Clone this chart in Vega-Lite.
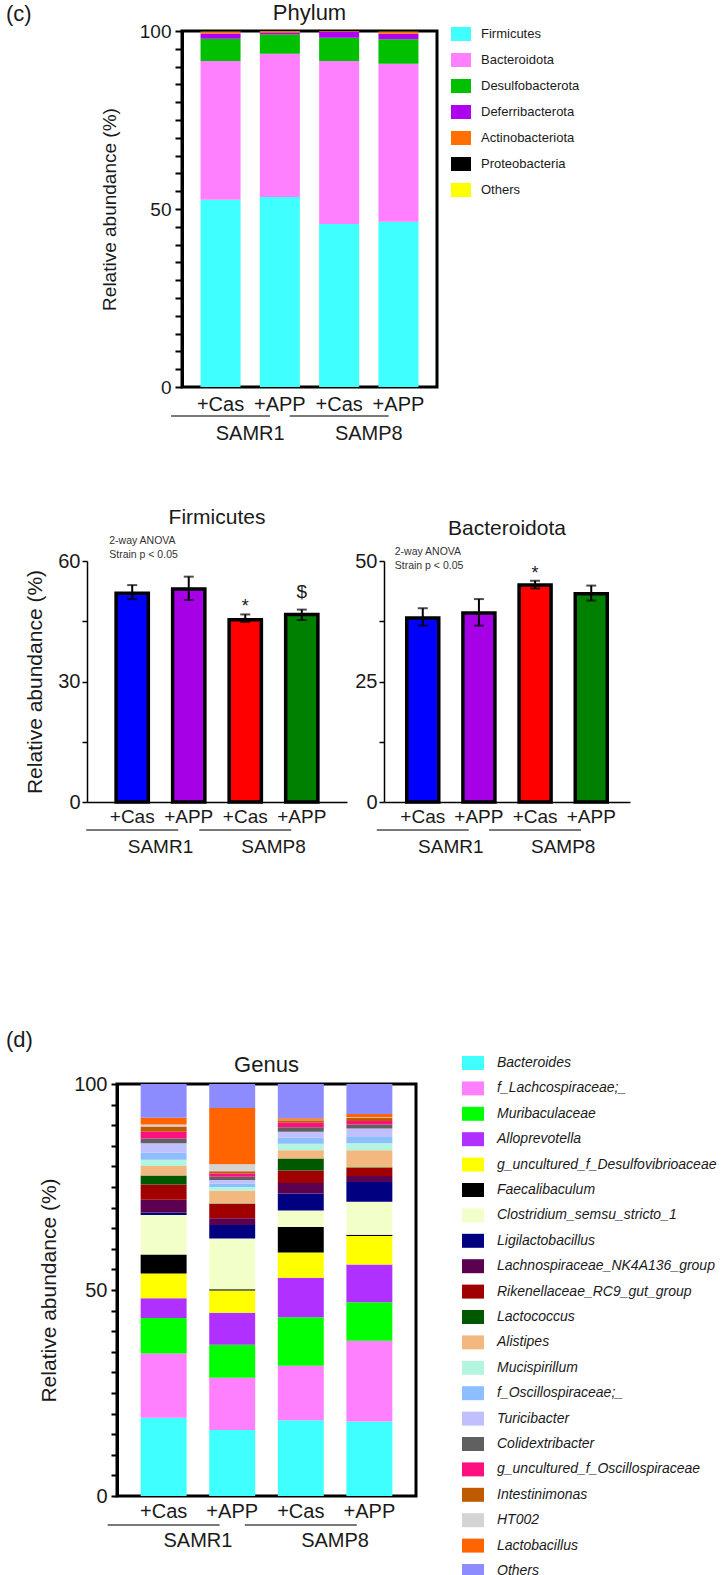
{
  "$schema": "https://vega.github.io/schema/vega-lite/v6.json",
  "background": "white",
  "padding": {"left": 0, "top": 0, "right": 0, "bottom": 0},
  "datasets": {
    "phylum": [
      {"t": "Firmicutes", "k": 1, "SAMR1 +Cas": 52.6, "SAMR1 +APP": 53.4, "SAMP8 +Cas": 45.8, "SAMP8 +APP": 46.4},
      {"t": "Bacteroidota", "k": 2, "SAMR1 +Cas": 39.0, "SAMR1 +APP": 40.2, "SAMP8 +Cas": 45.8, "SAMP8 +APP": 44.4},
      {"t": "Desulfobacterota", "k": 3, "SAMR1 +Cas": 6.2, "SAMR1 +APP": 5.4, "SAMP8 +Cas": 6.5, "SAMP8 +APP": 6.9},
      {"t": "Deferribacterota", "k": 4, "SAMR1 +Cas": 1.5, "SAMR1 +APP": 0.5, "SAMP8 +Cas": 1.7, "SAMP8 +APP": 1.5},
      {"t": "Actinobacteriota", "k": 5, "SAMR1 +Cas": 0.5, "SAMR1 +APP": 0.4, "SAMP8 +Cas": 0.1, "SAMP8 +APP": 0.6},
      {"t": "Proteobacteria", "k": 6, "SAMR1 +Cas": 0.1, "SAMR1 +APP": 0.05, "SAMP8 +Cas": 0.05, "SAMP8 +APP": 0.1},
      {"t": "Others", "k": 7, "SAMR1 +Cas": 0.1, "SAMR1 +APP": 0.05, "SAMP8 +Cas": 0.05, "SAMP8 +APP": 0.1}
    ],
    "genus": [
      {"t": "Bacteroides", "k": 1, "SAMR1 +Cas": 19.0, "SAMR1 +APP": 16.0, "SAMP8 +Cas": 18.4, "SAMP8 +APP": 18.1},
      {"t": "f_Lachcospiraceae;_", "k": 2, "SAMR1 +Cas": 15.6, "SAMR1 +APP": 12.7, "SAMP8 +Cas": 13.2, "SAMP8 +APP": 19.6},
      {"t": "Muribaculaceae", "k": 3, "SAMR1 +Cas": 8.6, "SAMR1 +APP": 8.0, "SAMP8 +Cas": 11.8, "SAMP8 +APP": 9.3},
      {"t": "Alloprevotella", "k": 4, "SAMR1 +Cas": 4.8, "SAMR1 +APP": 7.8, "SAMP8 +Cas": 9.6, "SAMP8 +APP": 9.2},
      {"t": "g_uncultured_f_Desulfovibrioaceae", "k": 5, "SAMR1 +Cas": 6.0, "SAMR1 +APP": 5.4, "SAMP8 +Cas": 6.1, "SAMP8 +APP": 6.9},
      {"t": "Faecalibaculum", "k": 6, "SAMR1 +Cas": 4.6, "SAMR1 +APP": 0.3, "SAMP8 +Cas": 6.2, "SAMP8 +APP": 0.3},
      {"t": "Clostridium_semsu_stricto_1", "k": 7, "SAMR1 +Cas": 9.6, "SAMR1 +APP": 12.3, "SAMP8 +Cas": 4.0, "SAMP8 +APP": 8.0},
      {"t": "Ligilactobacillus", "k": 8, "SAMR1 +Cas": 0.6, "SAMR1 +APP": 3.3, "SAMP8 +Cas": 4.1, "SAMP8 +APP": 4.8},
      {"t": "Lachnospiraceae_NK4A136_group", "k": 9, "SAMR1 +Cas": 3.1, "SAMR1 +APP": 1.6, "SAMP8 +Cas": 2.6, "SAMP8 +APP": 1.5},
      {"t": "Rikenellaceae_RC9_gut_group", "k": 10, "SAMR1 +Cas": 3.7, "SAMR1 +APP": 3.5, "SAMP8 +Cas": 3.0, "SAMP8 +APP": 2.0},
      {"t": "Lactococcus", "k": 11, "SAMR1 +Cas": 2.2, "SAMR1 +APP": 0.1, "SAMP8 +Cas": 2.9, "SAMP8 +APP": 0.1},
      {"t": "Alistipes", "k": 12, "SAMR1 +Cas": 2.3, "SAMR1 +APP": 3.1, "SAMP8 +Cas": 2.0, "SAMP8 +APP": 4.1},
      {"t": "Mucispirillum", "k": 13, "SAMR1 +Cas": 1.5, "SAMR1 +APP": 0.9, "SAMP8 +Cas": 1.6, "SAMP8 +APP": 1.7},
      {"t": "f_Oscillospiraceae;_", "k": 14, "SAMR1 +Cas": 1.7, "SAMR1 +APP": 0.8, "SAMP8 +Cas": 1.5, "SAMP8 +APP": 1.7},
      {"t": "Turicibacter", "k": 15, "SAMR1 +Cas": 2.3, "SAMR1 +APP": 0.9, "SAMP8 +Cas": 1.4, "SAMP8 +APP": 1.9},
      {"t": "Colidextribacter", "k": 16, "SAMR1 +Cas": 1.2, "SAMR1 +APP": 0.8, "SAMP8 +Cas": 1.1, "SAMP8 +APP": 1.0},
      {"t": "g_uncultured_f_Oscillospiraceae", "k": 17, "SAMR1 +Cas": 1.6, "SAMR1 +APP": 0.8, "SAMP8 +Cas": 1.1, "SAMP8 +APP": 0.8},
      {"t": "Intestinimonas", "k": 18, "SAMR1 +Cas": 1.3, "SAMR1 +APP": 0.5, "SAMP8 +Cas": 0.6, "SAMP8 +APP": 0.8},
      {"t": "HT002", "k": 19, "SAMR1 +Cas": 0.5, "SAMR1 +APP": 1.7, "SAMP8 +Cas": 0.1, "SAMP8 +APP": 0.1},
      {"t": "Lactobacillus", "k": 20, "SAMR1 +Cas": 1.6, "SAMR1 +APP": 13.7, "SAMP8 +Cas": 0.4, "SAMP8 +APP": 0.8},
      {"t": "Others", "k": 21, "SAMR1 +Cas": 8.2, "SAMR1 +APP": 5.8, "SAMP8 +Cas": 8.3, "SAMP8 +APP": 7.3}
    ],
    "strains": [
      {"s": "SAMR1", "first": "SAMR1 +Cas"},
      {"s": "SAMP8", "first": "SAMP8 +Cas"}
    ],
    "firm": [
      {"g": "SAMR1 +Cas", "v": 52.0, "lo": 50.5, "hi": 54.0, "sig": ""},
      {"g": "SAMR1 +APP", "v": 53.0, "lo": 50.3, "hi": 56.1, "sig": ""},
      {"g": "SAMP8 +Cas", "v": 45.4, "lo": 44.8, "hi": 46.7, "sig": "*"},
      {"g": "SAMP8 +APP", "v": 46.7, "lo": 45.3, "hi": 47.9, "sig": "$"}
    ],
    "bact": [
      {"g": "SAMR1 +Cas", "v": 38.2, "lo": 36.6, "hi": 40.2, "sig": ""},
      {"g": "SAMR1 +APP", "v": 39.2, "lo": 36.6, "hi": 42.1, "sig": ""},
      {"g": "SAMP8 +Cas", "v": 45.0, "lo": 44.3, "hi": 45.9, "sig": "*"},
      {"g": "SAMP8 +APP", "v": 43.2, "lo": 41.8, "hi": 44.9, "sig": ""}
    ]
  },
  "resolve": {"scale": {"color": "independent", "x": "independent", "y": "independent"}, "legend": {"color": "independent"}},
  "vconcat": [
    {
      "resolve": {"scale": {"color": "independent", "x": "independent", "y": "independent"}, "legend": {"color": "independent"}},
      "vconcat": [
        {
          "resolve": {"scale": {"color": "independent", "x": "independent", "y": "independent"}, "legend": {"color": "independent"}},
          "hconcat": [
            {
              "width": 36, "height": 1,
              "title": {"text": "(c)", "anchor": "start", "fontSize": 22, "offset": 0, "dx": 6},
              "data": {"values": [{}]},
              "mark": {"type": "text", "text": ""},
              "encoding": {}
            },
            {
              "width": 255, "height": 356,
              "view": {"stroke": "black", "strokeWidth": 3},
              "title": {"text": "Phylum", "fontSize": 22, "offset": -3},
              "layer": [
                {
                  "data": {"name": "phylum"},
                  "transform": [{"fold": ["SAMR1 +Cas", "SAMR1 +APP", "SAMP8 +Cas", "SAMP8 +APP"], "as": ["g", "v"]}],
                  "mark": {"type": "bar", "width": {"band": 0.675}},
                  "encoding": {
                    "x": {"field": "g", "type": "nominal",
                      "scale": {"domain": ["SAMR1 +Cas", "SAMR1 +APP", "SAMP8 +Cas", "SAMP8 +APP"], "paddingInner": 0, "paddingOuter": 0.15},
                      "axis": {"title": null, "labelExpr": "split(datum.value, ' ')[1]", "labelAngle": 0, "ticks": false, "domain": false, "labelFontSize": 20, "labelPadding": 7}},
                    "y": {"field": "v", "type": "quantitative", "stack": "zero",
                      "scale": {"domain": [0, 100], "nice": false},
                      "axis": {"values": [0, 5, 10, 15, 20, 25, 30, 35, 40, 45, 50, 55, 60, 65, 70, 75, 80, 85, 90, 95, 100], "labelExpr": "datum.value % 50 === 0 ? datum.label : ''", "labelOverlap": false, "title": "Relative abundance (%)", "titleFontSize": 19, "titlePadding": 20, "labelFontSize": 19, "labelPadding": 4, "tickSize": 7, "tickWidth": 2, "domainWidth": 3}},
                    "color": {"field": "t", "type": "nominal",
                      "scale": {"domain": ["Firmicutes", "Bacteroidota", "Desulfobacterota", "Deferribacterota", "Actinobacteriota", "Proteobacteria", "Others"],
                        "range": ["#40FFFF", "#FF80FF", "#00C000", "#B000F0", "#FF7000", "#000000", "#FFFF00"]},
                      "legend": {"title": null, "orient": "none", "legendX": 269, "legendY": -7, "padding": 0,
                        "symbolType": "M-1,-0.7H1V0.7H-1Z", "symbolSize": 400, "symbolStrokeWidth": 0, "symbolOpacity": 1,
                        "labelFontSize": 13, "labelOffset": 10, "rowPadding": 9}},
                    "order": {"field": "k", "type": "quantitative"}
                  }
                },
                {
                  "data": {"name": "strains"},
                  "mark": {"type": "text", "fontSize": 20, "baseline": "middle", "dy": 47},
                  "encoding": {
                    "x": {"field": "first", "type": "nominal", "bandPosition": 1},
                    "y": {"datum": 0, "axis": {"values": [0, 5, 10, 15, 20, 25, 30, 35, 40, 45, 50, 55, 60, 65, 70, 75, 80, 85, 90, 95, 100], "labelExpr": "datum.value % 50 === 0 ? datum.label : ''", "labelOverlap": false, "title": "Relative abundance (%)", "titleFontSize": 19, "titlePadding": 20, "labelFontSize": 19, "labelPadding": 4, "tickSize": 7, "tickWidth": 2, "domainWidth": 3}},
                    "text": {"field": "s"}
                  }
                },
                {
                  "data": {"name": "strains"},
                  "mark": {"type": "tick", "orient": "horizontal", "size": 99, "thickness": 1.5, "color": "black", "yOffset": 29},
                  "encoding": {
                    "x": {"field": "first", "type": "nominal", "bandPosition": 1},
                    "y": {"datum": 0, "axis": {"values": [0, 5, 10, 15, 20, 25, 30, 35, 40, 45, 50, 55, 60, 65, 70, 75, 80, 85, 90, 95, 100], "labelExpr": "datum.value % 50 === 0 ? datum.label : ''", "labelOverlap": false, "title": "Relative abundance (%)", "titleFontSize": 19, "titlePadding": 20, "labelFontSize": 19, "labelPadding": 4, "tickSize": 7, "tickWidth": 2, "domainWidth": 3}}
                  }
                }
              ]
            }
          ],
          "spacing": 62
        },
        {
          "resolve": {"scale": {"color": "independent", "x": "independent", "y": "independent"}, "legend": {"color": "independent"}},
          "hconcat": [
            {
              "width": 0, "height": 1,
              "data": {"values": [{}]},
              "mark": {"type": "text", "text": ""},
              "encoding": {}
            },
            {
              "resolve": {"scale": {"color": "independent", "x": "independent", "y": "independent"}, "legend": {"color": "independent"}},
              "hconcat": [
                {
                  "width": 260, "height": 241,
                  "title": {"text": "Firmicutes", "fontSize": 21, "offset": 8},
                  "data": {"name": "firm"},
                  "layer": [
                    {
                      "mark": {"type": "bar", "width": {"band": 0.57}, "stroke": "black", "strokeWidth": 3.5},
                      "encoding": {
                        "x": {"field": "g", "type": "nominal",
                          "scale": {"domain": ["SAMR1 +Cas", "SAMR1 +APP", "SAMP8 +Cas", "SAMP8 +APP"], "paddingInner": 0, "paddingOuter": 0.3},
                          "axis": {"title": null, "labelExpr": "split(datum.value, ' ')[1]", "labelAngle": 0, "ticks": false, "domainWidth": 1.5, "labelFontSize": 19, "labelPadding": 5}},
                        "y": {"field": "v", "type": "quantitative", "scale": {"domain": [0, 60], "nice": false},
                          "axis": {"values": [0, 15, 30, 45, 60], "labelExpr": "datum.value % 30 === 0 ? datum.label : ''", "labelOverlap": false, "title": "Relative abundance (%)", "titleFontSize": 21, "titlePadding": 12, "labelFontSize": 20, "labelPadding": 2, "tickSize": 5, "tickWidth": 1.5, "domainWidth": 1.5}},
                        "color": {"field": "g", "type": "nominal",
                          "scale": {"domain": ["SAMR1 +Cas", "SAMR1 +APP", "SAMP8 +Cas", "SAMP8 +APP"], "range": ["#0000FF", "#A600E6", "#FF0000", "#008000"]},
                          "legend": null}
                      }
                    },
                    {
                      "mark": {"type": "rule", "strokeWidth": 2, "color": "black"},
                      "encoding": {
                        "x": {"field": "g", "type": "nominal"},
                        "y": {"field": "lo", "type": "quantitative", "axis": {"values": [0, 15, 30, 45, 60], "labelExpr": "datum.value % 30 === 0 ? datum.label : ''", "labelOverlap": false, "title": "Relative abundance (%)", "titleFontSize": 21, "titlePadding": 12, "labelFontSize": 20, "labelPadding": 2, "tickSize": 5, "tickWidth": 1.5, "domainWidth": 1.5}},
                        "y2": {"field": "hi"}
                      }
                    },
                    {
                      "mark": {"type": "tick", "orient": "horizontal", "size": 10, "thickness": 2, "color": "black"},
                      "encoding": {
                        "x": {"field": "g", "type": "nominal"},
                        "y": {"field": "hi", "type": "quantitative", "axis": {"values": [0, 15, 30, 45, 60], "labelExpr": "datum.value % 30 === 0 ? datum.label : ''", "labelOverlap": false, "title": "Relative abundance (%)", "titleFontSize": 21, "titlePadding": 12, "labelFontSize": 20, "labelPadding": 2, "tickSize": 5, "tickWidth": 1.5, "domainWidth": 1.5}}
                      }
                    },
                    {
                      "mark": {"type": "tick", "orient": "horizontal", "size": 10, "thickness": 2, "color": "black"},
                      "encoding": {
                        "x": {"field": "g", "type": "nominal"},
                        "y": {"field": "lo", "type": "quantitative", "axis": {"values": [0, 15, 30, 45, 60], "labelExpr": "datum.value % 30 === 0 ? datum.label : ''", "labelOverlap": false, "title": "Relative abundance (%)", "titleFontSize": 21, "titlePadding": 12, "labelFontSize": 20, "labelPadding": 2, "tickSize": 5, "tickWidth": 1.5, "domainWidth": 1.5}}
                      }
                    },
                    {
                      "transform": [{"filter": "datum.sig === '*'"}],
                      "mark": {"type": "text", "baseline": "bottom", "dy": 2, "fontSize": 18},
                      "encoding": {
                        "x": {"field": "g", "type": "nominal"},
                        "y": {"field": "hi", "type": "quantitative", "axis": {"values": [0, 15, 30, 45, 60], "labelExpr": "datum.value % 30 === 0 ? datum.label : ''", "labelOverlap": false, "title": "Relative abundance (%)", "titleFontSize": 21, "titlePadding": 12, "labelFontSize": 20, "labelPadding": 2, "tickSize": 5, "tickWidth": 1.5, "domainWidth": 1.5}},
                        "text": {"field": "sig"}
                      }
                    },
                    {
                      "transform": [{"filter": "datum.sig === '$'"}],
                      "mark": {"type": "text", "baseline": "bottom", "dy": -8, "fontSize": 19},
                      "encoding": {
                        "x": {"field": "g", "type": "nominal"},
                        "y": {"field": "hi", "type": "quantitative", "axis": {"values": [0, 15, 30, 45, 60], "labelExpr": "datum.value % 30 === 0 ? datum.label : ''", "labelOverlap": false, "title": "Relative abundance (%)", "titleFontSize": 21, "titlePadding": 12, "labelFontSize": 20, "labelPadding": 2, "tickSize": 5, "tickWidth": 1.5, "domainWidth": 1.5}},
                        "text": {"field": "sig"}
                      }
                    },
                    {
                      "data": {"values": [{}]},
                      "mark": {"type": "text", "text": ["2-way ANOVA", "Strain p < 0.05"], "align": "left", "baseline": "bottom", "fontSize": 10.5, "lineHeight": 14, "dx": -23, "dy": -15, "color": "#333333"},
                      "encoding": {
                        "x": {"datum": "SAMR1 +Cas"},
                        "y": {"datum": 60, "axis": {"values": [0, 15, 30, 45, 60], "labelExpr": "datum.value % 30 === 0 ? datum.label : ''", "labelOverlap": false, "title": "Relative abundance (%)", "titleFontSize": 21, "titlePadding": 12, "labelFontSize": 20, "labelPadding": 2, "tickSize": 5, "tickWidth": 1.5, "domainWidth": 1.5}}
                      }
                    },
                    {
                      "data": {"name": "strains"},
                      "mark": {"type": "text", "fontSize": 19, "baseline": "middle", "dy": 45},
                      "encoding": {
                        "x": {"field": "first", "type": "nominal", "bandPosition": 1},
                        "y": {"datum": 0, "axis": {"values": [0, 15, 30, 45, 60], "labelExpr": "datum.value % 30 === 0 ? datum.label : ''", "labelOverlap": false, "title": "Relative abundance (%)", "titleFontSize": 21, "titlePadding": 12, "labelFontSize": 20, "labelPadding": 2, "tickSize": 5, "tickWidth": 1.5, "domainWidth": 1.5}},
                        "text": {"field": "s"}
                      }
                    },
                    {
                      "data": {"name": "strains"},
                      "mark": {"type": "tick", "orient": "horizontal", "size": 92, "thickness": 1.5, "color": "black", "yOffset": 28},
                      "encoding": {
                        "x": {"field": "first", "type": "nominal", "bandPosition": 1},
                        "y": {"datum": 0, "axis": {"values": [0, 15, 30, 45, 60], "labelExpr": "datum.value % 30 === 0 ? datum.label : ''", "labelOverlap": false, "title": "Relative abundance (%)", "titleFontSize": 21, "titlePadding": 12, "labelFontSize": 20, "labelPadding": 2, "tickSize": 5, "tickWidth": 1.5, "domainWidth": 1.5}}
                      }
                    }
                  ]
                },
                {
                  "width": 246, "height": 241,
                  "title": {"text": "Bacteroidota", "fontSize": 21, "offset": 8},
                  "data": {"name": "bact"},
                  "layer": [
                    {
                      "mark": {"type": "bar", "width": {"band": 0.57}, "stroke": "black", "strokeWidth": 3.5},
                      "encoding": {
                        "x": {"field": "g", "type": "nominal",
                          "scale": {"domain": ["SAMR1 +Cas", "SAMR1 +APP", "SAMP8 +Cas", "SAMP8 +APP"], "paddingInner": 0, "paddingOuter": 0.19},
                          "axis": {"title": null, "labelExpr": "split(datum.value, ' ')[1]", "labelAngle": 0, "ticks": false, "domainWidth": 1.5, "labelFontSize": 19, "labelPadding": 5}},
                        "y": {"field": "v", "type": "quantitative", "scale": {"domain": [0, 50], "nice": false},
                          "axis": {"values": [0, 12.5, 25, 37.5, 50], "labelExpr": "datum.value % 25 === 0 ? datum.label : ''", "labelOverlap": false, "title": null, "labelFontSize": 20, "labelPadding": 2, "tickSize": 5, "tickWidth": 1.5, "domainWidth": 1.5}},
                        "color": {"field": "g", "type": "nominal",
                          "scale": {"domain": ["SAMR1 +Cas", "SAMR1 +APP", "SAMP8 +Cas", "SAMP8 +APP"], "range": ["#0000FF", "#A600E6", "#FF0000", "#008000"]},
                          "legend": null}
                      }
                    },
                    {
                      "mark": {"type": "rule", "strokeWidth": 2, "color": "black"},
                      "encoding": {
                        "x": {"field": "g", "type": "nominal"},
                        "y": {"field": "lo", "type": "quantitative", "axis": {"values": [0, 12.5, 25, 37.5, 50], "labelExpr": "datum.value % 25 === 0 ? datum.label : ''", "labelOverlap": false, "title": null, "labelFontSize": 20, "labelPadding": 2, "tickSize": 5, "tickWidth": 1.5, "domainWidth": 1.5}},
                        "y2": {"field": "hi"}
                      }
                    },
                    {
                      "mark": {"type": "tick", "orient": "horizontal", "size": 10, "thickness": 2, "color": "black"},
                      "encoding": {
                        "x": {"field": "g", "type": "nominal"},
                        "y": {"field": "hi", "type": "quantitative", "axis": {"values": [0, 12.5, 25, 37.5, 50], "labelExpr": "datum.value % 25 === 0 ? datum.label : ''", "labelOverlap": false, "title": null, "labelFontSize": 20, "labelPadding": 2, "tickSize": 5, "tickWidth": 1.5, "domainWidth": 1.5}}
                      }
                    },
                    {
                      "mark": {"type": "tick", "orient": "horizontal", "size": 10, "thickness": 2, "color": "black"},
                      "encoding": {
                        "x": {"field": "g", "type": "nominal"},
                        "y": {"field": "lo", "type": "quantitative", "axis": {"values": [0, 12.5, 25, 37.5, 50], "labelExpr": "datum.value % 25 === 0 ? datum.label : ''", "labelOverlap": false, "title": null, "labelFontSize": 20, "labelPadding": 2, "tickSize": 5, "tickWidth": 1.5, "domainWidth": 1.5}}
                      }
                    },
                    {
                      "transform": [{"filter": "datum.sig === '*'"}],
                      "mark": {"type": "text", "baseline": "bottom", "dy": 2, "fontSize": 18},
                      "encoding": {
                        "x": {"field": "g", "type": "nominal"},
                        "y": {"field": "hi", "type": "quantitative", "axis": {"values": [0, 12.5, 25, 37.5, 50], "labelExpr": "datum.value % 25 === 0 ? datum.label : ''", "labelOverlap": false, "title": null, "labelFontSize": 20, "labelPadding": 2, "tickSize": 5, "tickWidth": 1.5, "domainWidth": 1.5}},
                        "text": {"field": "sig"}
                      }
                    },
                    {
                      "data": {"values": [{}]},
                      "mark": {"type": "text", "text": ["2-way ANOVA", "Strain p < 0.05"], "align": "left", "baseline": "bottom", "fontSize": 10.5, "lineHeight": 14, "dx": -28, "dy": -4, "color": "#333333"},
                      "encoding": {
                        "x": {"datum": "SAMR1 +Cas"},
                        "y": {"datum": 50, "axis": {"values": [0, 12.5, 25, 37.5, 50], "labelExpr": "datum.value % 25 === 0 ? datum.label : ''", "labelOverlap": false, "title": null, "labelFontSize": 20, "labelPadding": 2, "tickSize": 5, "tickWidth": 1.5, "domainWidth": 1.5}}
                      }
                    },
                    {
                      "data": {"name": "strains"},
                      "mark": {"type": "text", "fontSize": 19, "baseline": "middle", "dy": 45},
                      "encoding": {
                        "x": {"field": "first", "type": "nominal", "bandPosition": 1},
                        "y": {"datum": 0, "axis": {"values": [0, 12.5, 25, 37.5, 50], "labelExpr": "datum.value % 25 === 0 ? datum.label : ''", "labelOverlap": false, "title": null, "labelFontSize": 20, "labelPadding": 2, "tickSize": 5, "tickWidth": 1.5, "domainWidth": 1.5}},
                        "text": {"field": "s"}
                      }
                    },
                    {
                      "data": {"name": "strains"},
                      "mark": {"type": "tick", "orient": "horizontal", "size": 92, "thickness": 1.5, "color": "black", "yOffset": 28},
                      "encoding": {
                        "x": {"field": "first", "type": "nominal", "bandPosition": 1},
                        "y": {"datum": 0, "axis": {"values": [0, 12.5, 25, 37.5, 50], "labelExpr": "datum.value % 25 === 0 ? datum.label : ''", "labelOverlap": false, "title": null, "labelFontSize": 20, "labelPadding": 2, "tickSize": 5, "tickWidth": 1.5, "domainWidth": 1.5}}
                      }
                    }
                  ]
                }
              ],
              "spacing": 7
            }
          ],
          "spacing": 4
        }
      ],
      "spacing": 61
    },
    {
      "resolve": {"scale": {"color": "independent", "x": "independent", "y": "independent"}, "legend": {"color": "independent"}},
      "hconcat": [
        {
          "width": 34, "height": 1,
          "title": {"text": "(d)", "anchor": "start", "fontSize": 22, "offset": 27, "dx": 6},
          "data": {"values": [{}]},
          "mark": {"type": "text", "text": ""},
          "encoding": {}
        },
        {
          "width": 299, "height": 412,
          "view": {"stroke": "black", "strokeWidth": 3},
          "title": {"text": "Genus", "fontSize": 22, "offset": -25},
          "layer": [
            {
              "data": {"name": "genus"},
              "transform": [{"fold": ["SAMR1 +Cas", "SAMR1 +APP", "SAMP8 +Cas", "SAMP8 +APP"], "as": ["g", "v"]}],
              "mark": {"type": "bar", "width": {"band": 0.67}},
              "encoding": {
                "x": {"field": "g", "type": "nominal",
                  "scale": {"domain": ["SAMR1 +Cas", "SAMR1 +APP", "SAMP8 +Cas", "SAMP8 +APP"], "paddingInner": 0, "paddingOuter": 0.18},
                  "axis": {"title": null, "labelExpr": "split(datum.value, ' ')[1]", "labelAngle": 0, "ticks": false, "domain": false, "labelFontSize": 20, "labelPadding": 5}},
                "y": {"field": "v", "type": "quantitative", "stack": "zero",
                  "scale": {"domain": [0, 100], "nice": false},
                  "axis": {"values": [0, 5, 10, 15, 20, 25, 30, 35, 40, 45, 50, 55, 60, 65, 70, 75, 80, 85, 90, 95, 100], "labelExpr": "datum.value % 50 === 0 ? datum.label : ''", "labelOverlap": false, "title": "Relative abundance (%)", "titleFontSize": 21, "titlePadding": 14, "labelFontSize": 20, "labelPadding": 4, "tickSize": 6, "tickWidth": 2, "domainWidth": 3}},
                "color": {"field": "t", "type": "nominal",
                  "scale": {"domain": ["Bacteroides", "f_Lachcospiraceae;_", "Muribaculaceae", "Alloprevotella", "g_uncultured_f_Desulfovibrioaceae", "Faecalibaculum", "Clostridium_semsu_stricto_1", "Ligilactobacillus", "Lachnospiraceae_NK4A136_group", "Rikenellaceae_RC9_gut_group", "Lactococcus", "Alistipes", "Mucispirillum", "f_Oscillospiraceae;_", "Turicibacter", "Colidextribacter", "g_uncultured_f_Oscillospiraceae", "Intestinimonas", "HT002", "Lactobacillus", "Others"],
                    "range": ["#40FFFF", "#FF80FF", "#00FF00", "#B030FF", "#FFFF00", "#000000", "#F3FFC8", "#000080", "#5C0050", "#A00000", "#005800", "#F2B880", "#B4F5DF", "#8DBEFF", "#C0C0FF", "#606060", "#FF1080", "#C05A00", "#D4D4D4", "#FF6400", "#8C8CFF"]},
                  "legend": {"title": null, "orient": "none", "legendX": 345, "legendY": -32, "padding": 0,
                    "symbolType": "M-1,-0.636H1V0.636H-1Z", "symbolSize": 484, "symbolStrokeWidth": 0, "symbolOpacity": 1,
                    "labelFontSize": 14, "labelFontStyle": "italic", "labelOffset": 13, "rowPadding": 7.4, "labelLimit": 300, "symbolLimit": 30}},
                "order": {"field": "k", "type": "quantitative"}
              }
            },
            {
              "data": {"name": "strains"},
              "mark": {"type": "text", "fontSize": 20, "baseline": "middle", "dy": 45},
              "encoding": {
                "x": {"field": "first", "type": "nominal", "bandPosition": 1},
                "y": {"datum": 0, "axis": {"values": [0, 5, 10, 15, 20, 25, 30, 35, 40, 45, 50, 55, 60, 65, 70, 75, 80, 85, 90, 95, 100], "labelExpr": "datum.value % 50 === 0 ? datum.label : ''", "labelOverlap": false, "title": "Relative abundance (%)", "titleFontSize": 21, "titlePadding": 14, "labelFontSize": 20, "labelPadding": 4, "tickSize": 6, "tickWidth": 2, "domainWidth": 3}},
                "text": {"field": "s"}
              }
            },
            {
              "data": {"name": "strains"},
              "mark": {"type": "tick", "orient": "horizontal", "size": 112, "thickness": 1.5, "color": "black", "yOffset": 29},
              "encoding": {
                "x": {"field": "first", "type": "nominal", "bandPosition": 1},
                "y": {"datum": 0, "axis": {"values": [0, 5, 10, 15, 20, 25, 30, 35, 40, 45, 50, 55, 60, 65, 70, 75, 80, 85, 90, 95, 100], "labelExpr": "datum.value % 50 === 0 ? datum.label : ''", "labelOverlap": false, "title": "Relative abundance (%)", "titleFontSize": 21, "titlePadding": 14, "labelFontSize": 20, "labelPadding": 4, "tickSize": 6, "tickWidth": 2, "domainWidth": 3}}
              }
            }
          ]
        }
      ],
      "spacing": 3
    }
  ],
  "spacing": 171,
  "config": {
    "font": "Liberation Sans",
    "view": {"stroke": null},
    "axis": {"grid": false, "domainColor": "black", "tickColor": "black", "labelColor": "#1a1a1a", "titleColor": "#1a1a1a", "titleFontWeight": "normal", "labelFont": "Liberation Sans", "titleFont": "Liberation Sans"},
    "title": {"fontWeight": "normal", "color": "#1a1a1a", "font": "Liberation Sans"},
    "legend": {"labelFont": "Liberation Sans", "labelColor": "#1a1a1a"},
    "text": {"font": "Liberation Sans", "color": "#1a1a1a"}
  }
}
